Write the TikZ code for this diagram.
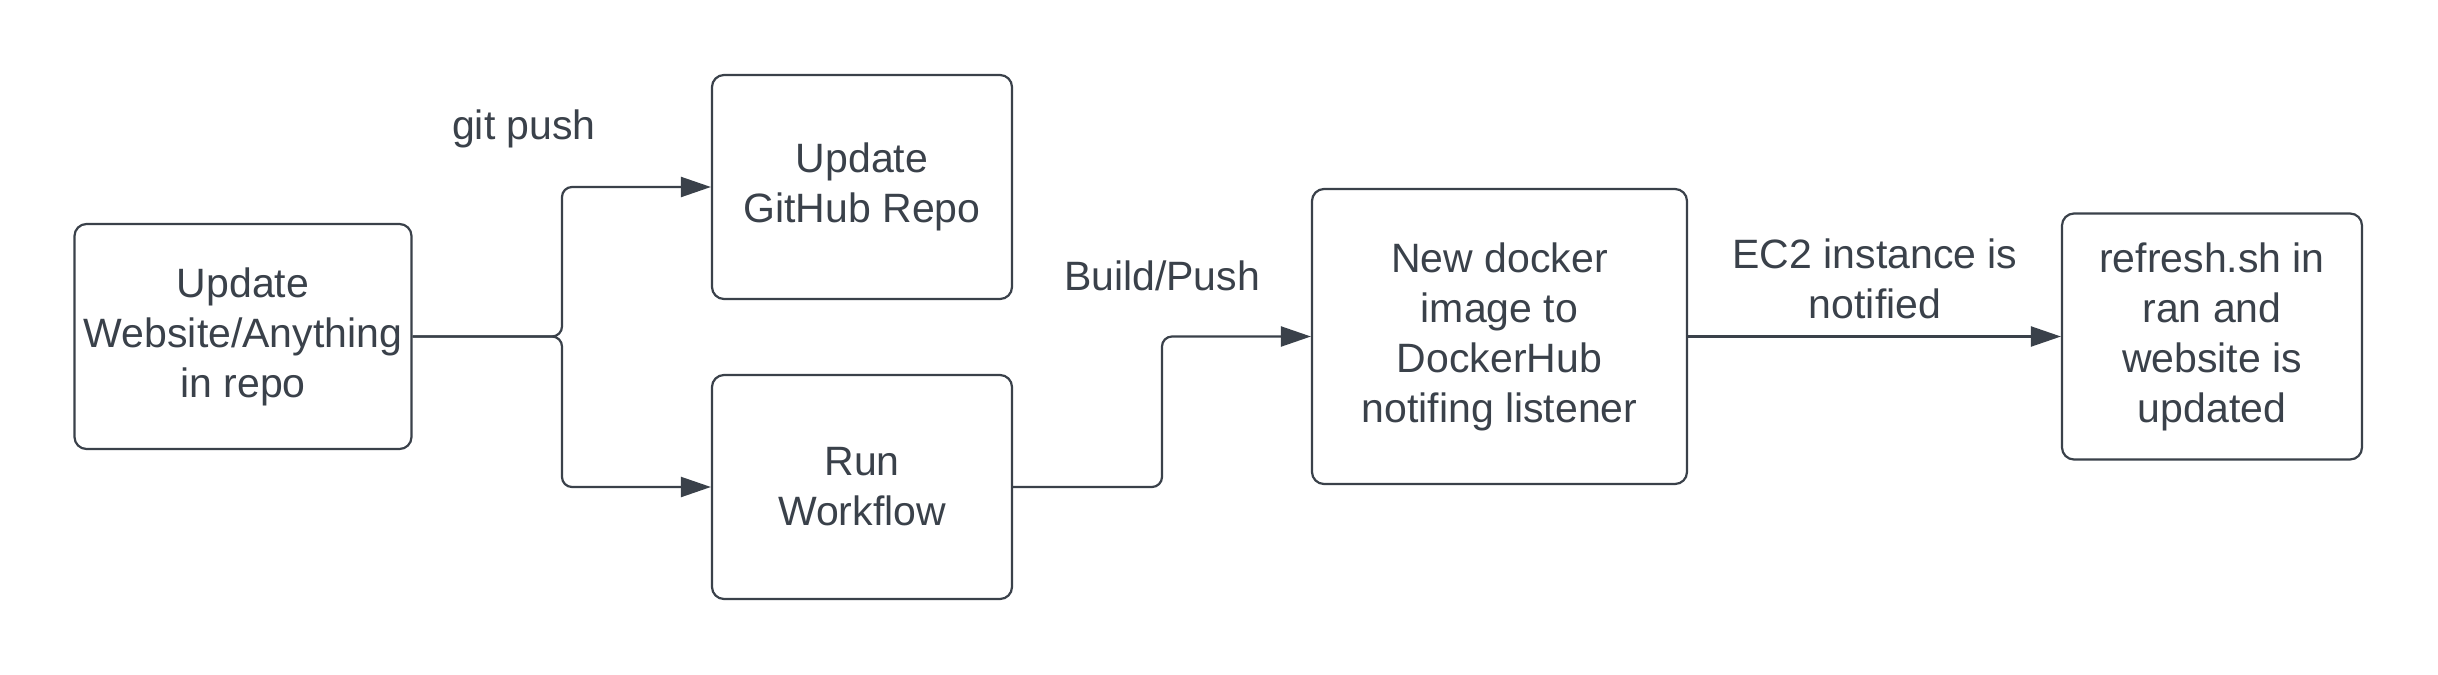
\documentclass[tikz,border=0pt]{standalone}
\usepackage{fontspec}
\setmainfont{Liberation Sans}
\usetikzlibrary{arrows.meta}
\definecolor{ink}{HTML}{3A414A}
\begin{document}
\begin{tikzpicture}[x=0.5pt,y=-0.5pt,
  box/.style={draw=ink, line width=1.1pt, rounded corners=6pt, inner sep=0pt,
    align=center, text=ink, font=\fontsize{20.5}{25}\selectfont},
  lbl/.style={inner sep=0pt, align=center, text=ink, font=\fontsize{20.5}{25}\selectfont},
  conn/.style={draw=ink, line width=1.1pt, rounded corners=5pt,
    -{Triangle[length=15pt,width=10pt]}}]
\useasboundingbox[fill=white] (0,0) rectangle (2438,675);
\node[box, minimum width=168.5pt, minimum height=112.5pt] (b1) at (243,336.5) {Update\\Website/Anything\\in repo};
\node[box, minimum width=150pt, minimum height=112pt] (b2) at (862,187) {Update\\GitHub Repo};
\node[box, minimum width=150pt, minimum height=112pt] (b3) at (862,487) {Run\\Workflow};
\node[box, minimum width=187.5pt, minimum height=147.5pt] (b4) at (1499.5,336.5) {New docker\\image to\\DockerHub\\notifing listener};
\node[box, minimum width=150pt, minimum height=123pt] (b5) at (2212,336.5) {refresh.sh in\\ran and\\website is\\updated};
\node[lbl] (l1) at (524,129) {git push};
\node[lbl] (l2) at (1162,276) {Build/Push};
\node[lbl] (l3) at (1875,279) {EC2 instance is\\notified};
\coordinate (j) at (562,336.5);
\coordinate (k) at (1162,487);
\draw[conn] (b1.east) -- (j) |- (b2.west);
\draw[conn] (b1.east) -- (j) |- (b3.west);
\draw[conn] (b3.east) -- (k) |- (b4.west);
\draw[conn] (b4.east) -- (b5.west);
\end{tikzpicture}
\end{document}
